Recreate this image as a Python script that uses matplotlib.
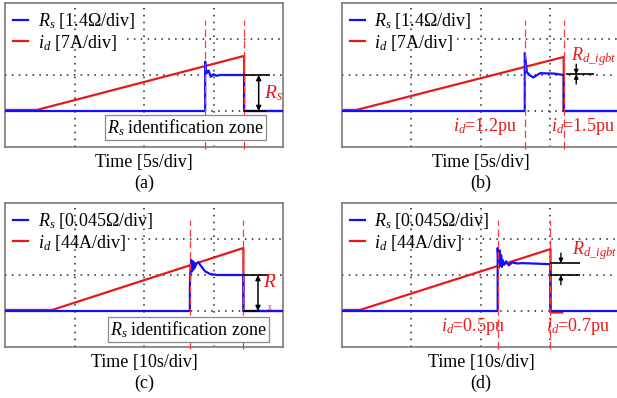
import matplotlib
matplotlib.use("Agg")
import matplotlib.pyplot as plt
from matplotlib.lines import Line2D

plt.rcParams['font.family'] = ['Liberation Serif', 'DejaVu Serif']
plt.rcParams['mathtext.fontset'] = 'custom'
plt.rcParams['mathtext.rm'] = 'Liberation Serif'
plt.rcParams['mathtext.it'] = 'Liberation Serif:italic'

W, H = 617, 398
FS = 13
BLUE = '#1010ff'
RED = '#e81818'
DASH_RED = '#ff3838'

# time / amplitude are in scope divisions (4 x 4 grid)
# ---- (a) Rs scan ----
red_t_a = [0, 0.46, 3.44, 3.44, 4.0]
red_v_a = [1.03, 1.03, 2.53, 1.0, 1.0]
blue_t_a = [0, 2.88, 2.88, 2.90, 2.93, 2.96, 3.00, 3.04, 3.10, 3.44, 3.44, 4.0]
blue_v_a = [1, 1, 2.37, 2.05, 2.12, 1.95, 2.02, 1.98, 2.0, 2.0, 1, 1]
marks_a = [2.88, 3.44]

# ---- (b) Rd_igbt scan ----
red_t_b = [0, 0.21, 3.19, 3.19, 4.0]
red_v_b = [1.03, 1.03, 2.5, 1.0, 1.0]
blue_t_b = [0, 2.63, 2.63, 2.66, 2.70, 2.75, 2.85, 3.05, 3.19, 3.19, 4.0]
blue_v_b = [1, 1, 2.61, 2.08, 2.0, 1.93, 2.05, 2.04, 2.0, 1, 1]
marks_b = [2.63, 3.19]
pu_b = ['1.2', '1.5']

# ---- (c) Rs scan ----
red_t_c = [0, 0.68, 3.43, 3.43, 4.0]
red_v_c = [1.03, 1.03, 2.75, 1.0, 1.0]
blue_t_c = [0, 2.66, 2.66, 2.67, 2.68, 2.69, 2.70, 2.71, 2.72, 2.73, 2.75,
            2.78, 2.82, 2.88, 2.95, 3.05, 3.43, 3.43, 4.0]
blue_v_c = [1, 1, 1.7, 2.2, 2.42, 2.1, 2.38, 2.15, 2.35, 2.2, 2.3,
            2.36, 2.25, 2.1, 2.03, 2.0, 2.0, 1, 1]
marks_c = [2.66, 3.43]

# ---- (d) Rd_igbt scan ----
red_t_d = [0, 0.26, 3.0, 3.0, 3.17]
red_v_d = [1.03, 1.03, 2.72, 0.96, 0.96]
blue_t_d = [0, 2.24, 2.24, 2.255, 2.27, 2.28, 2.29, 2.30, 2.31, 2.33, 2.36,
            2.40, 2.45, 2.52, 2.60, 3.0, 3.0, 4.0]
blue_v_d = [1, 1, 2.75, 2.2, 2.68, 2.25, 2.55, 2.22, 2.42, 2.28, 2.38,
            2.27, 2.35, 2.32, 2.33, 2.3, 1, 1]
marks_d = [2.24, 3.0]
pu_d = ['0.5', '0.7']

legend_a = [r'$R_s$ [1.4Ω/div]', r'$i_d$ [7A/div]']
legend_c = [r'$R_s$ [0.045Ω/div]', r'$i_d$ [44A/div]']


def scope_axes(fig, left, top, grid3_start):
    # 278 x 144 px screen, 4 x 4 divisions
    ax = fig.add_axes([left / W, 1 - (top + 144) / H, 278 / W, 144 / H])
    ax.set_xlim(0, 4)
    ax.set_ylim(0, 4)
    ax.set_xticks([])
    ax.set_yticks([])
    for s in ax.spines.values():
        s.set_color('#7a7a7a')
        s.set_linewidth(1.2)
    dot = dict(color='#202020', lw=1.1, linestyles=(0, (1, 3.5)), zorder=1)
    ax.vlines([1, 2, 3], 0, 4, **dot)
    ax.hlines([1, 2], 0, 4, **dot)
    ax.hlines(3, grid3_start, 4, **dot)
    return ax


def traces(ax, rt, rv, bt, bv, marks, labels):
    ax.plot(rt, rv, color=RED, lw=1.6, zorder=2, label=labels[1])
    ax.plot(bt, bv, color=BLUE, lw=1.6, zorder=3, label=labels[0])
    ax.vlines(marks, -0.05, 3.53, color=DASH_RED, lw=0.9,
              linestyles=(0, (6, 3)), zorder=4, clip_on=False)
    h, l = ax.get_legend_handles_labels()
    ax.legend(h[::-1], l[::-1], loc='upper left', bbox_to_anchor=(0.0, 1.0),
              frameon=False, fontsize=FS, handlelength=0.85, handletextpad=0.5,
              labelspacing=0.08, borderaxespad=0.25, borderpad=0.2)


def caption(fig, cx, y, xlabel, tag):
    fig.text(cx / W, 1 - y / H, xlabel, ha='center', va='center', fontsize=FS)
    fig.text(cx / W, 1 - (y + 21) / H, tag, ha='center', va='center', fontsize=FS)


def rs_marker(ax, x0, x_top, x_bot, xa, lab_xy, plain):
    ax.hlines(2, x0, x_top, color='black', lw=1.2, zorder=5)
    ax.hlines(1, x0, x_bot, color='black', lw=1.2, zorder=5)
    ax.annotate('', xy=(xa, 1.0), xytext=(xa, 2.0),
                arrowprops=dict(arrowstyle='<|-|>', color='black', lw=1.1,
                                mutation_scale=7, shrinkA=0, shrinkB=0), zorder=5)
    if plain:
        ax.text(lab_xy[0], lab_xy[1], r'$R$', color=RED, fontsize=FS + 1,
                ha='left', va='center', zorder=6)
        ax.text(lab_xy[0] + 0.07, 1.11, 's', color=RED, fontsize=7,
                style='italic', ha='left', va='center', zorder=4)
    else:
        ax.text(lab_xy[0], lab_xy[1], r'$R_s$', color=RED, fontsize=FS + 1,
                ha='left', va='center', zorder=6)


def zone_box(ax, cx, cy):
    ax.text(cx, cy, r'$R_s$ identification zone', fontsize=FS, ha='center',
            va='center', zorder=6,
            bbox=dict(boxstyle='square,pad=0.12', fc='white', ec='#8a8a8a', lw=0.9))


def rd_marker(ax, x0, x1, xa, lo, hi, lab_xy):
    ax.hlines(sorted(set([lo, hi])), x0, x1, color='black', lw=1.2, zorder=5)
    arr = dict(arrowstyle='-|>', color='black', lw=1.0, mutation_scale=6,
               shrinkA=0, shrinkB=0)
    ax.annotate('', xy=(xa, hi), xytext=(xa, hi + 0.28), arrowprops=arr, zorder=5)
    ax.annotate('', xy=(xa, lo), xytext=(xa, lo - 0.27), arrowprops=arr, zorder=5)
    ax.text(lab_xy[0], lab_xy[1], r'$R_{d\_igbt}$', color=RED, fontsize=FS,
            ha='left', va='center', zorder=6, clip_on=False)


def pu_labels(ax, xs, vals):
    for x, v in zip(xs, vals):
        ax.text(x, 0.56, r'$i_d$=' + v + 'pu', color=RED, fontsize=FS,
                ha='center', va='center', zorder=6)


fig = plt.figure(figsize=(W / 100, H / 100), dpi=100)

ax_a = scope_axes(fig, 5, 3, 1.76)
traces(ax_a, red_t_a, red_v_a, blue_t_a, blue_v_a, marks_a, legend_a)
rs_marker(ax_a, marks_a[1], 3.82, 3.75, 3.65, (3.73, 1.5), plain=False)
zone_box(ax_a, 2.6, 0.53)
caption(fig, 144, 162, 'Time [5s/div]', '(a)')

ax_b = scope_axes(fig, 342, 3, 1.65)
traces(ax_b, red_t_b, red_v_b, blue_t_b, blue_v_b, marks_b, legend_a)
rd_marker(ax_b, 3.23, 3.63, 3.37, 2.02, 2.02, (3.3, 2.5))
pu_labels(ax_b, [2.06, 3.47], pu_b)
caption(fig, 481, 162, 'Time [5s/div]', '(b)')

ax_c = scope_axes(fig, 5, 203, 1.77)
traces(ax_c, red_t_c, red_v_c, blue_t_c, blue_v_c, marks_c, legend_c)
rs_marker(ax_c, marks_c[1], 3.8, 3.67, 3.64, (3.71, 1.78), plain=True)
zone_box(ax_c, 2.64, 0.49)
caption(fig, 144, 362, 'Time [10s/div]', '(c)')

ax_d = scope_axes(fig, 342, 203, 1.73)
traces(ax_d, red_t_d, red_v_d, blue_t_d, blue_v_d, marks_d, legend_c)
rd_marker(ax_d, 3.0, 3.42, 3.15, 2.0, 2.33, (3.31, 2.69))
pu_labels(ax_d, [1.88, 3.39], pu_d)
caption(fig, 481, 362, 'Time [10s/div]', '(d)')

fig.savefig('out.png', dpi=100)
